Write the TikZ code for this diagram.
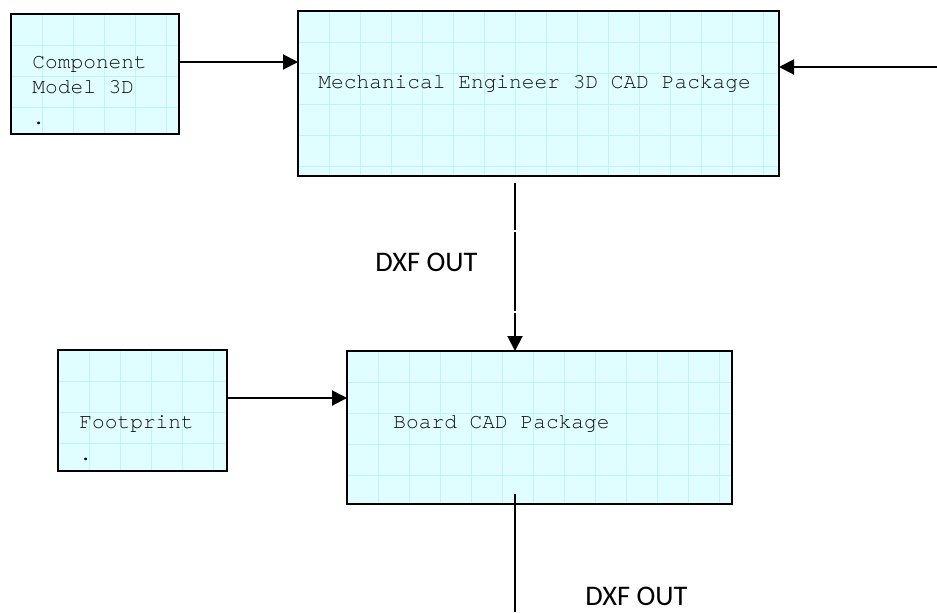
\documentclass[tikz,border=0pt]{standalone}
\usepackage{fontspec}
\setmainfont{Carlito}
\setmonofont{TeX Gyre Cursor}
\usetikzlibrary{arrows.meta, calc}
\definecolor{cadcyan}{HTML}{E0FEFF}
\definecolor{cadgrid}{HTML}{C4F3F6}
\definecolor{cadtext}{HTML}{101010}

\begin{document}
\begin{tikzpicture}[x=0.5pt, y=-0.5pt,
    cadbox/.style={fill=cadcyan, inner sep=0pt, outer sep=0pt},
    cadlabel/.style={font=\ttfamily\fontsize{10.6pt}{12.5pt}\selectfont, text=cadtext, inner sep=0pt, anchor=base west, align=left},
    dxflabel/.style={font=\fontsize{14.2pt}{17pt}\selectfont, inner sep=0pt, anchor=base west},
    conn/.style={line width=1pt, -{Triangle[length=7.5pt, width=7.5pt]}}]
        \useasboundingbox (0,0) rectangle (937,612);
        \node[cadbox, minimum width=84pt, minimum height=60pt] (comp) at (95,74) {};
        \node[cadbox, minimum width=240.5pt, minimum height=82.5pt] (mech) at (538.5,93.5) {};
        \node[cadbox, minimum width=84.5pt, minimum height=60.5pt] (foot) at (142.5,410.5) {};
        \node[cadbox, minimum width=192.5pt, minimum height=76.5pt] (board) at (539.5,427.5) {};
        \foreach \b in {comp, mech, foot, board} {
          \begin{scope}
            \clip (\b.north west) rectangle (\b.south east);
            \draw[cadgrid, line width=0.4pt, step=15.5pt, shift={(\b.north west)}] (0,0) grid (500,200);
          \end{scope}
          \draw[line width=1.2pt] (\b.north west) rectangle (\b.south east);
        }
        \node[cadlabel] (comptext) at (32,124) {Component\\Model 3D\\[3pt].};
        \node[cadlabel] (mechtext) at (318,88) {Mechanical Engineer 3D CAD Package};
        \node[cadlabel] (foottext) at (79,460) {Footprint\\[3.5pt].};
        \node[cadlabel] (boardtext) at (393,428) {Board CAD Package};
        \node[dxflabel] (dxfmid) at (375,271) {DXF OUT};
        \node[dxflabel] (dxflow) at (585,605.5) {DXF OUT};
        \coordinate (mechin) at (937,67);
        \coordinate (mechout) at (515,183);
        \coordinate (boardout) at (515,494);
        \coordinate (pageend) at (515,612);
        \draw[conn] ([yshift=6pt]comp.east) -- ([yshift=6pt]comp.east -| mech.west);
        \draw[conn] (mechin) -- (mechin -| mech.east);
        \draw[conn, dash pattern=on 23.5pt off 1pt on 39.5pt off 1pt on 60pt] (mechout) -- (mechout |- board.north);
        \draw[conn] ([yshift=6.25pt]foot.east) -- ([yshift=6.25pt]foot.east -| board.west);
        \draw[line width=1pt] (boardout) -- (pageend);
      \end{tikzpicture}
\end{document}
